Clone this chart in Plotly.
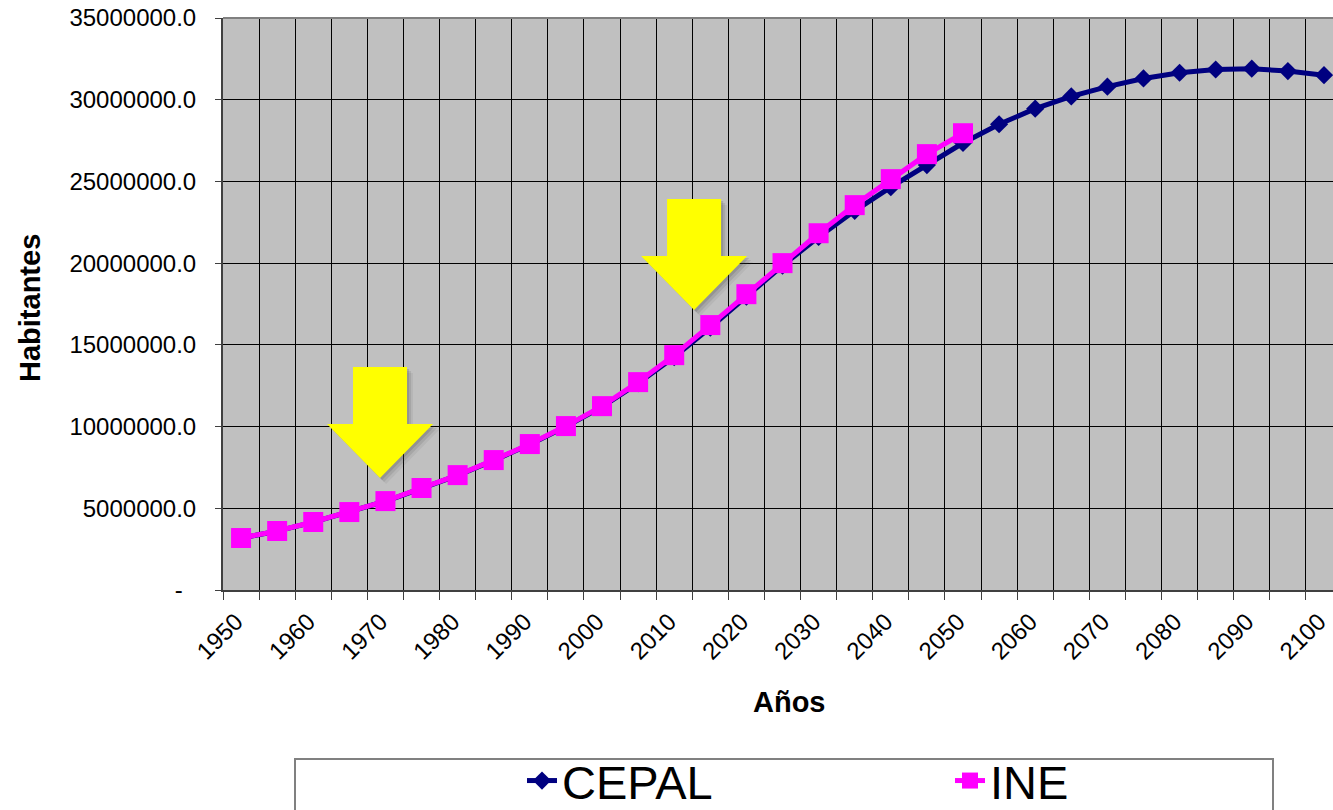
import plotly.graph_objects as go

# Population projections (inhabitants), 5-year steps
years = list(range(1950, 2101, 5))

cepal = [3170000, 3600000, 4150000, 4760000, 5430000, 6220000, 7010000, 7930000,
         8900000, 10000000, 11200000, 12650000, 14250000, 16050000, 17950000,
         19850000, 21600000, 23200000, 24650000, 26000000, 27350000, 28500000,
         29450000, 30200000, 30800000, 31300000, 31650000, 31850000, 31900000,
         31750000, 31500000]

ine_years = list(range(1950, 2051, 5))
ine = [3180000, 3610000, 4160000, 4770000, 5440000, 6240000, 7030000, 7950000,
       8930000, 10030000, 11250000, 12720000, 14370000, 16210000, 18100000,
       20000000, 21830000, 23550000, 25140000, 26670000, 27950000]

y_ticks = [0, 5000000, 10000000, 15000000, 20000000, 25000000, 30000000, 35000000]
y_ticktext = ["-\u00a0\u00a0"] + [f"{v:.1f}" for v in y_ticks[1:]]
x_ticks = list(range(1950, 2101, 10))

FONT = "Liberation Sans, Arial, sans-serif"

# plot-area geometry in pixels
L, R, T, B = 223, 1333, 18, 590
PW, PH = R - L, B - T


def px_x(p):
    return (p - L) / PW


def px_y(p):
    return (B - p) / PH


fig = go.Figure()

fig.add_trace(go.Scatter(
    x=years, y=cepal, name="CEPAL", mode="lines+markers", legend="legend",
    line=dict(color="#000080", width=5),
    marker=dict(symbol="diamond", size=14, color="#000080"),
))
fig.add_trace(go.Scatter(
    x=ine_years, y=ine, name="INE", mode="lines+markers", legend="legend2",
    line=dict(color="#FF00FF", width=5),
    marker=dict(symbol="square", size=20, color="#FF00FF"),
))

# Yellow block arrows with a soft drop shadow (pixel geometry, anchored at the tip)
arrow_path = "M0,0 L-53,54 L-27,54 L-27,111 L27,111 L27,54 L53,54 Z"
arrow_tips = [(1969.25, 6850000), (2012.75, 17130000)]
x_per_px = 5 / 36.04
y_per_px = 35000000 / PH
shapes = []
for tx, ty in arrow_tips:
    for off, op in [(6, 0.08), (4, 0.13), (2, 0.18)]:
        shapes.append(dict(
            type="path", xref="x", yref="y", xsizemode="pixel", ysizemode="pixel",
            xanchor=tx + off * x_per_px, yanchor=ty - off * y_per_px,
            path=arrow_path, fillcolor=f"rgba(60,60,60,{op})",
            line=dict(width=0), layer="above",
        ))
    shapes.append(dict(
        type="path", xref="x", yref="y", xsizemode="pixel", ysizemode="pixel",
        xanchor=tx, yanchor=ty, path=arrow_path,
        fillcolor="#FFFF00", line=dict(width=0), layer="above",
    ))

# Top border of the plot area
shapes.append(dict(type="line", xref="paper", yref="paper", x0=0, x1=1, y0=1, y1=1,
                   line=dict(color="#808080", width=2)))
# Legend frame
shapes.append(dict(type="rect", xref="paper", yref="paper",
                   x0=px_x(295), x1=px_x(1273), y0=px_y(840), y1=px_y(759),
                   line=dict(color="#808080", width=2), fillcolor="rgba(0,0,0,0)"))

legend_style = dict(
    orientation="h", xanchor="left", yanchor="middle",
    font=dict(size=47, family=FONT),
    bgcolor="rgba(0,0,0,0)", borderwidth=0,
)

fig.update_layout(
    width=1333, height=810,
    margin=dict(l=L, r=1333 - R, t=T, b=810 - B, autoexpand=False),
    paper_bgcolor="white",
    plot_bgcolor="#C0C0C0",
    font=dict(family=FONT, color="black"),
    shapes=shapes,
    showlegend=True,
    legend=dict(x=px_x(522), y=px_y(781), **legend_style),
    legend2=dict(x=px_x(950), y=px_y(781), **legend_style),
    annotations=[
        dict(text="<b>Habitantes</b>", xref="paper", yref="paper",
             x=px_x(30), y=px_y(308), textangle=-90, xanchor="center",
             yanchor="middle", showarrow=False, font=dict(size=29, family=FONT)),
        dict(text="<b>Años</b>", xref="paper", yref="paper",
             x=px_x(789), y=px_y(702), xanchor="center", yanchor="middle",
             showarrow=False, font=dict(size=29, family=FONT)),
    ],
)

fig.update_xaxes(
    type="linear", range=[1947.5, 2101.25],
    tickmode="array", tickvals=x_ticks, tickangle=-45,
    tickfont=dict(size=24, family=FONT), ticklabeloverflow="allow",
    ticklabelstandoff=6, ticklabelshift=-5,
    showgrid=False, ticks="", zeroline=False,
    showline=True, linecolor="#404040", linewidth=2,
    minor=dict(tick0=1947.5, dtick=5, showgrid=True, gridcolor="#000000",
               gridwidth=1, ticks="outside", ticklen=8, tickcolor="#404040",
               tickwidth=1),
)
fig.update_yaxes(
    range=[0, 35000000], tickmode="array", tickvals=y_ticks, ticktext=y_ticktext,
    tickfont=dict(size=24, family=FONT), ticklabelstandoff=14,
    showgrid=True, gridcolor="#000000", gridwidth=1, zeroline=False,
    showline=True, linecolor="#404040", linewidth=2,
    ticks="outside", ticklen=6, tickcolor="#404040",
)

fig.write_html("out.html")
